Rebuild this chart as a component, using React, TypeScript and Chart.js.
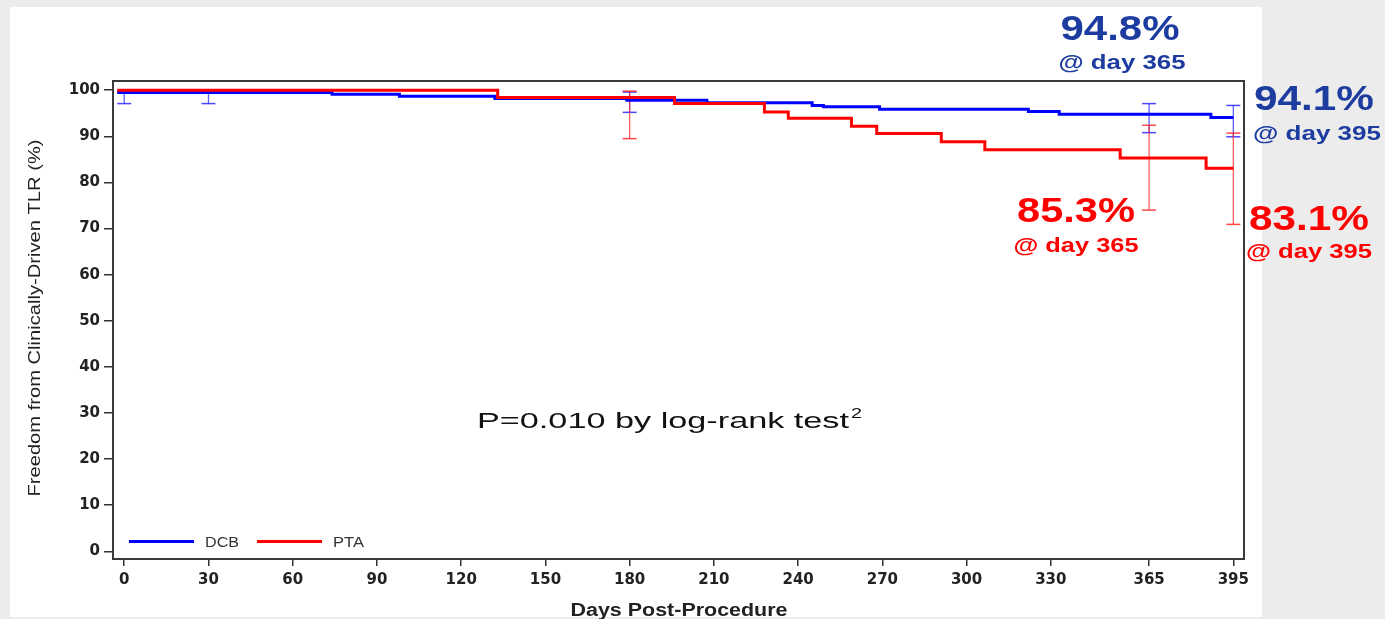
import React, { useEffect, useRef } from 'react';
import { Chart, registerables } from 'chart.js';

Chart.register(...registerables);

// ---------- data ----------
const xTickValues = [0, 30, 60, 90, 120, 150, 180, 210, 240, 270, 300, 330, 365, 395];
const yTickValues = [0, 10, 20, 30, 40, 50, 60, 70, 80, 90, 100];

const seriesNames = ['DCB', 'PTA'];

// Kaplan-Meier step curves (day of step, survival % after step)
const dcbDays = [-2.5, 74, 98, 132, 179, 207.5, 245, 249, 269, 322, 333, 387, 395];
const dcbSurvival = [99.5, 99.1, 98.7, 98.2, 97.8, 97.3, 96.7, 96.4, 95.9, 95.4, 94.8, 94.1, 94.1];

const ptaDays = [-2.5, 133, 196, 228, 236.5, 259, 268, 291, 306.5, 354.7, 385.3, 395];
const ptaSurvival = [100, 98.4, 97.1, 95.3, 93.9, 92.2, 90.6, 88.8, 87.1, 85.3, 83.1, 83.1];

// confidence interval bars
const dcbCiDays = [0, 30, 180, 365, 395];
const dcbCiLower = [97.1, 97.1, 95.2, 90.8, 89.9];
const dcbCiUpper = [100, 100, 99.6, 97.1, 96.7];

const ptaCiDays = [180, 365, 395];
const ptaCiLower = [89.5, 74.0, 70.9];
const ptaCiUpper = [99.8, 92.4, 90.7];

const yAxisTitle = 'Freedom from Clinically-Driven TLR (%)';
const xAxisTitle = 'Days Post-Procedure';
const pValueText = 'P=0.010 by log-rank test';
const pValueSup = '2';

const dcbCallouts = ['94.8%', '@ day 365', '94.1%', '@ day 395'];
const ptaCallouts = ['85.3%', '@ day 365', '83.1%', '@ day 395'];

// ---------- helpers ----------
const BLUE = '#0000FF';
const RED = '#FF0000';
const CALLOUT_BLUE = '#1D3C9F';

function ciPoints(days: number[], lo: number[], hi: number[]) {
  const pts: { x: number; y: number | null }[] = [];
  days.forEach((d, i) => {
    pts.push({ x: d, y: lo[i] });
    pts.push({ x: d, y: hi[i] });
    pts.push({ x: d, y: null });
  });
  return pts;
}

function fitText(
  ctx: CanvasRenderingContext2D,
  text: string,
  x: number,
  y: number,
  font: string,
  color: string,
  width: number | null,
  align: CanvasTextAlign = 'center',
  baseline: CanvasTextBaseline = 'alphabetic'
) {
  ctx.save();
  ctx.font = font;
  ctx.fillStyle = color;
  ctx.textAlign = align;
  ctx.textBaseline = baseline;
  const w = ctx.measureText(text).width;
  const sx = width ? width / w : 1;
  ctx.translate(x, y);
  ctx.scale(sx, 1);
  ctx.fillText(text, 0, 0);
  ctx.restore();
}

const decorPlugin = {
  id: 'decor',
  beforeDraw(chart: any) {
    const ctx = chart.ctx as CanvasRenderingContext2D;
    ctx.save();
    ctx.fillStyle = '#ECECEC';
    ctx.fillRect(0, 0, chart.width, chart.height);
    ctx.fillStyle = '#FFFFFF';
    ctx.fillRect(10, 7, 1252, 610);
    ctx.restore();
  },
  afterDraw(chart: any) {
    const ctx = chart.ctx as CanvasRenderingContext2D;
    const a = chart.chartArea;
    // frame
    ctx.save();
    ctx.strokeStyle = '#3A3A3A';
    ctx.lineWidth = 2;
    ctx.strokeRect(a.left, a.top, a.right - a.left, a.bottom - a.top);
    ctx.restore();

    // legend inside plot
    const ly = a.bottom - 17.5;
    const legendColors = [BLUE, RED];
    const legendX = [a.left + 16, a.left + 144];
    const textW = [34, 31];
    seriesNames.forEach((name, i) => {
      ctx.save();
      ctx.strokeStyle = legendColors[i];
      ctx.lineWidth = 3;
      ctx.beginPath();
      ctx.moveTo(legendX[i], ly);
      ctx.lineTo(legendX[i] + 65, ly);
      ctx.stroke();
      ctx.restore();
      fitText(ctx, name, legendX[i] + 76, ly + 5, '14px "Liberation Sans", Arial', '#333', textW[i], 'left');
    });

    // axis titles
    ctx.save();
    ctx.translate(35, 318);
    ctx.rotate(-Math.PI / 2);
    fitText(ctx, yAxisTitle, 0, 0, '17px "Liberation Sans", Arial', '#222', 357, 'center', 'middle');
    ctx.restore();
    fitText(ctx, xAxisTitle, 679, 616, 'bold 18px "Liberation Sans", Arial', '#222', 217);

    // p-value
    fitText(ctx, pValueText, 477, 428, '22px "Liberation Sans", Arial', '#111', 372, 'left');
    fitText(ctx, pValueSup, 851, 418, '14px "Liberation Sans", Arial', '#111', 11, 'left');

    // callouts
    const big = 'bold 35px "Liberation Sans", Arial';
    const small = 'bold 20px "Liberation Sans", Arial';
    fitText(ctx, dcbCallouts[0], 1120, 40, big, CALLOUT_BLUE, 119);
    fitText(ctx, dcbCallouts[1], 1122, 69, small, CALLOUT_BLUE, 127);
    fitText(ctx, dcbCallouts[2], 1314, 110, big, CALLOUT_BLUE, 120);
    fitText(ctx, dcbCallouts[3], 1317, 140, small, CALLOUT_BLUE, 128);
    fitText(ctx, ptaCallouts[0], 1076, 222, big, RED, 118);
    fitText(ctx, ptaCallouts[1], 1076, 252, small, RED, 125);
    fitText(ctx, ptaCallouts[2], 1309, 230, big, RED, 120);
    fitText(ctx, ptaCallouts[3], 1309, 258, small, RED, 126);
  },
};

export default function App() {
  const ref = useRef<HTMLCanvasElement>(null);

  useEffect(() => {
    if (!ref.current) return;
    const tickFont = { family: '"DejaVu Sans", sans-serif', size: 15, weight: 'bold' as const };
    const chart = new Chart(ref.current, {
      type: 'line',
      data: {
        datasets: [
          {
            label: seriesNames[1],
            data: ptaDays.map((d, i) => ({ x: d, y: ptaSurvival[i] })),
            borderColor: RED,
            borderWidth: 3,
            stepped: true,
            pointRadius: 0,
            fill: false,
            order: 0,
          },
          {
            label: seriesNames[0],
            data: dcbDays.map((d, i) => ({ x: d, y: dcbSurvival[i] })),
            borderColor: BLUE,
            borderWidth: 3,
            stepped: true,
            pointRadius: 0,
            fill: false,
            order: 1,
          },
          {
            label: seriesNames[1] + ' CI',
            data: ciPoints(ptaCiDays, ptaCiLower, ptaCiUpper),
            borderColor: 'rgba(255,40,40,0.75)',
            borderWidth: 1.3,
            pointStyle: 'line',
            pointRadius: 7,
            pointBorderColor: 'rgba(255,40,40,0.85)',
            pointBorderWidth: 1.5,
            fill: false,
            spanGaps: false,
            order: 2,
          },
          {
            label: seriesNames[0] + ' CI',
            data: ciPoints(dcbCiDays, dcbCiLower, dcbCiUpper),
            borderColor: 'rgba(40,40,255,0.75)',
            borderWidth: 1.3,
            pointStyle: 'line',
            pointRadius: 7,
            pointBorderColor: 'rgba(40,40,255,0.85)',
            pointBorderWidth: 1.5,
            fill: false,
            spanGaps: false,
            order: 3,
          },
        ] as any,
      },
      options: {
        responsive: false,
        animation: false,
        devicePixelRatio: 1,
        layout: { padding: { left: 0, top: 81, right: 141, bottom: 0 } },
        plugins: { legend: { display: false }, tooltip: { enabled: false } },
        elements: { line: { borderJoinStyle: 'miter', borderCapStyle: 'butt' } },
        scales: {
          x: {
            type: 'linear',
            min: -4,
            max: 398.8,
            afterBuildTicks: (s: any) => {
              s.ticks = xTickValues.map((v) => ({ value: v }));
            },
            afterFit: (s: any) => {
              s.height = 60;
            },
            ticks: { autoSkip: false, maxRotation: 0, font: tickFont, color: '#222', padding: 5 },
            grid: { drawOnChartArea: false, drawTicks: true, tickLength: 7, color: '#333', lineWidth: 1.5 },
            border: { display: true, color: '#333', width: 2 },
          },
          y: {
            type: 'linear',
            min: -1.67,
            max: 102,
            afterBuildTicks: (s: any) => {
              s.ticks = yTickValues.map((v) => ({ value: v }));
            },
            afterFit: (s: any) => {
              s.width = 113;
            },
            ticks: { font: tickFont, color: '#222', padding: 4 },
            grid: { drawOnChartArea: false, drawTicks: true, tickLength: 9, color: '#333', lineWidth: 1.5 },
            border: { display: true, color: '#333', width: 2 },
          },
        },
      } as any,
      plugins: [decorPlugin],
    });
    return () => chart.destroy();
  }, []);

  return (
    <div style={{ position: 'fixed', left: 0, top: 0, width: 1385, height: 619 }}>
      <canvas ref={ref} width={1385} height={619} style={{ display: 'block' }} />
    </div>
  );
}
